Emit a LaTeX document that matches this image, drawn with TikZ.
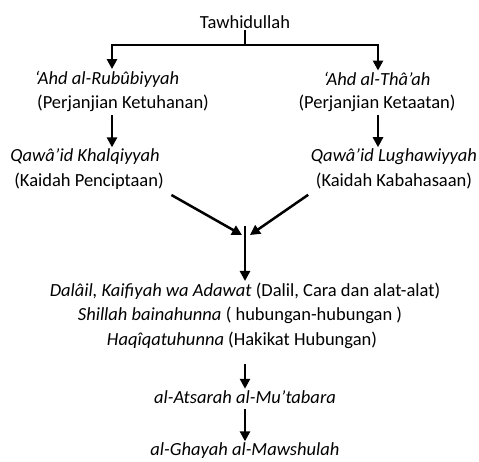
\documentclass[tikz,border=0pt]{standalone}
\usepackage{fontspec}
\setmainfont{Carlito}
\usetikzlibrary{arrows.meta}
\usetikzlibrary{positioning}
\tikzset{every picture/.style={x=1pt,y=-1pt,line width=1.5pt},
  txt/.style={inner sep=1pt,font=\fontsize{18.5}{20}\selectfont},
  arab/.style={inner sep=1pt,font=\fontsize{18.5}{20}\selectfont\itshape},
  arr/.style={-{Triangle[width=10pt,length=10pt]},line width=2.5pt}}

\begin{document}
\begin{tikzpicture}
\useasboundingbox (0,0) rectangle (479,461);
\node (tw) [txt] at (245,22) {Tawhidullah};
\node (rub) [arab] at (107,79) {`Ahd al-Rubûbiyyah};
\node (rubid) [txt] at (123,103) {(Perjanjian Ketuhanan)};
\node (tha) [arab] at (377,79) {`Ahd al-Thâ'ah};
\node (thaid) [txt] at (377,103) {(Perjanjian Ketaatan)};
\node (khal) [arab] at (85,157) {Qawâ'id Khalqiyyah};
\node (khalid) [txt] at (89,181) {(Kaidah Penciptaan)};
\node (lugh) [arab] at (394,157) {Qawâ'id Lughawiyyah};
\node (lughid) [txt] at (394,181) {(Kaidah Kabahasaan)};
\node (dal) [txt] at (245,291) {\textit{Dalâil, Kaifiyah wa Adawat} (Dalil, Cara dan alat-alat)};
\node (shil) [txt] at (240,315) {\textit{Shillah bainahunna} ( hubungan-hubungan )};
\node (haq) [txt] at (242,340) {\textit{Haqîqatuhunna} (Hakikat Hubungan)};
\node (ats) [arab] at (245,397) {al-Atsarah al-Mu'tabara};
\node (ghay) [arab] at (245,451) {al-Ghayah al-Mawshulah};
\coordinate (split) at (245,45);
\coordinate (left) at (112,45);
\coordinate (right) at (378,45);
\coordinate (join) at (245,226);
\draw (tw.south) -- (split);
\draw [arr] (split) -| (rub.north -| left);
\draw [arr] (split) -| (tha.north -| right);
\draw [arr, shorten <=2pt] (rubid.south -| left) -- (khal.north -| left);
\draw [arr, shorten <=2pt] (thaid.south -| right) -- (lugh.north -| right);
\draw [arr] ([shift={(6,4)}]khalid.south east) -- ([xshift=-3pt]join |- 0,235);
\draw [arr] ([shift={(-6,4)}]lughid.south west) -- ([xshift=5pt]join |- 0,235);
\draw [arr] (join) -- (dal.north);
\draw [arr, shorten <=14pt] (haq.south -| ats) -- (ats.north);
\draw [arr, shorten <=4pt] (ats.south) -- (ghay.north);
\end{tikzpicture}
\end{document}
